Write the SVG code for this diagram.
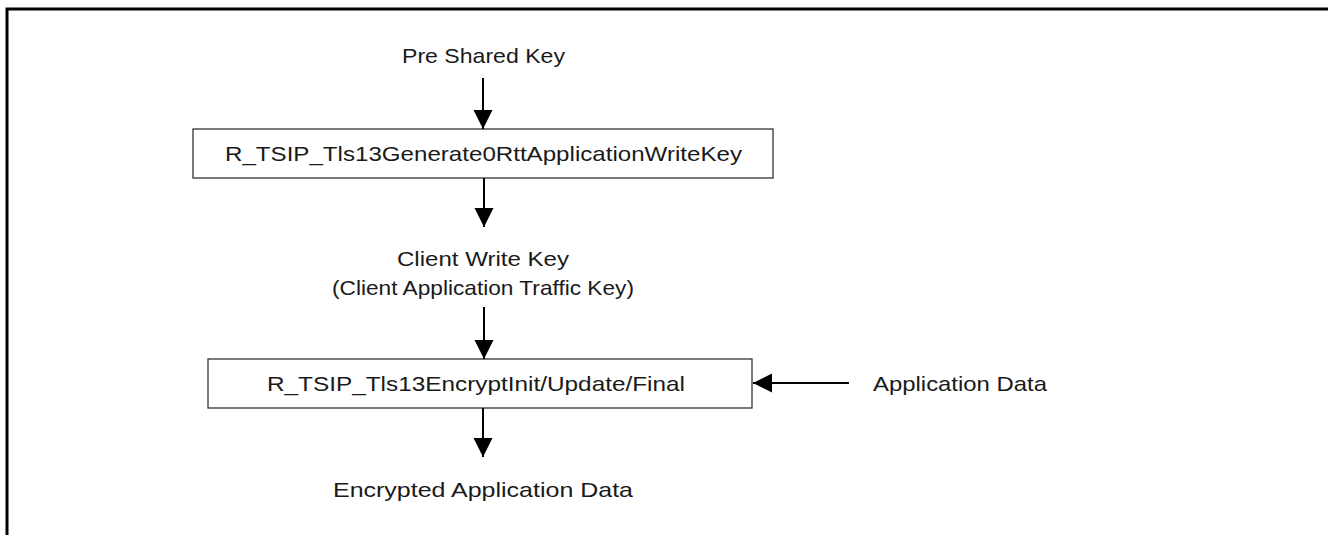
<svg xmlns="http://www.w3.org/2000/svg" width="1328" height="535" viewBox="0 0 1328 535">
<style>
.t{font-family:"Liberation Sans",Arial,sans-serif;font-size:21px;fill:#1a1a1a;text-anchor:middle}
.box{fill:#fff;stroke:#333;stroke-width:1.3}
.c{stroke:#000;stroke-width:2;fill:none}
</style>
<defs>
<marker id="ah" markerUnits="userSpaceOnUse" markerWidth="20" markerHeight="20" refX="19" refY="9.5" orient="auto">
<path d="M0,0 L19,9.5 L0,19 Z" fill="#000"/>
</marker>
</defs>
<rect width="1328" height="535" fill="#fff"/>
<path d="M7,540 V9 H1332" fill="none" stroke="#000" stroke-width="3"/>
<g id="psk"><text class="t" x="483.5" y="63" textLength="163" lengthAdjust="spacingAndGlyphs">Pre Shared Key</text></g>
<g id="gen"><rect class="box" x="193" y="129" width="580" height="49"/>
<text class="t" x="483.5" y="161" textLength="517" lengthAdjust="spacingAndGlyphs">R_TSIP_Tls13Generate0RttApplicationWriteKey</text></g>
<g id="cwk"><text class="t" x="483" y="266" textLength="172" lengthAdjust="spacingAndGlyphs">Client Write Key</text>
<text class="t" x="483" y="295" textLength="302" lengthAdjust="spacingAndGlyphs">(Client Application Traffic Key)</text></g>
<g id="enc"><rect class="box" x="208" y="359" width="544" height="49"/>
<text class="t" x="476" y="391" textLength="418" lengthAdjust="spacingAndGlyphs">R_TSIP_Tls13EncryptInit/Update/Final</text></g>
<g id="appdata"><text class="t" x="960" y="391" textLength="174" lengthAdjust="spacingAndGlyphs">Application Data</text></g>
<g id="encdata"><text class="t" x="483" y="497" textLength="300" lengthAdjust="spacingAndGlyphs">Encrypted Application Data</text></g>
<g id="connectors">
<line class="c" x1="483" y1="78" x2="483" y2="129" marker-end="url(#ah)"/>
<line class="c" x1="484" y1="178" x2="484" y2="227" marker-end="url(#ah)"/>
<line class="c" x1="484" y1="307" x2="484" y2="359" marker-end="url(#ah)"/>
<line class="c" x1="849" y1="383" x2="753" y2="383" marker-end="url(#ah)"/>
<line class="c" x1="483" y1="408" x2="483" y2="457" marker-end="url(#ah)"/>
</g>
</svg>
